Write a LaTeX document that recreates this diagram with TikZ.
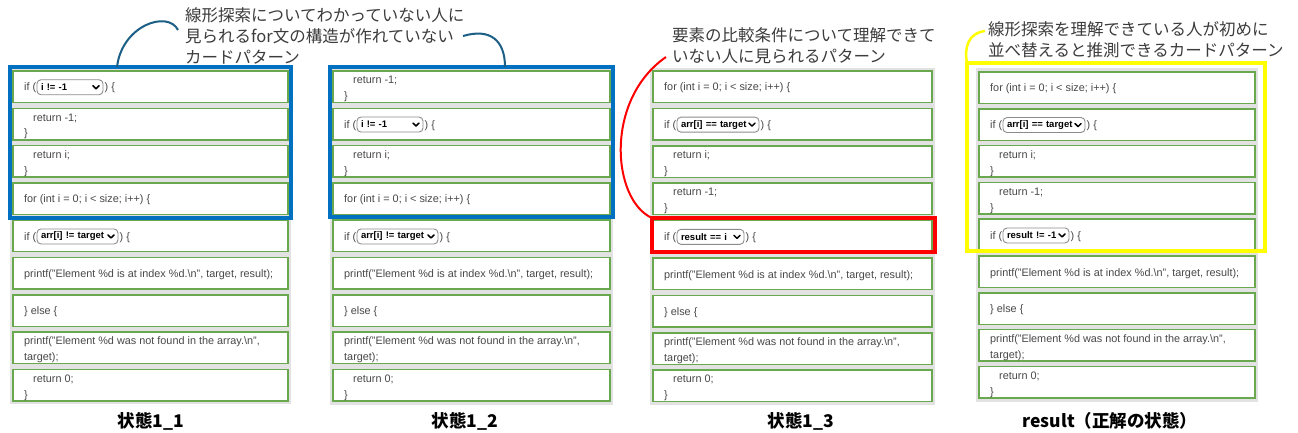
\documentclass[tikz,border=0pt]{standalone}
\usepackage{fontspec}
\setmainfont{Liberation Sans}
\newfontfamily\cjk{Noto Sans CJK JP}
\usetikzlibrary{calc}
\definecolor{cardgreen}{RGB}{106,168,79}
\definecolor{panelgray}{RGB}{226,226,226}
\definecolor{codegray}{RGB}{72,72,72}
\definecolor{ddgray}{RGB}{140,140,140}
\definecolor{boxblue}{RGB}{0,112,192}
\definecolor{curveblue}{RGB}{27,95,135}
\definecolor{annotgray}{RGB}{60,60,60}
\definecolor{boxred}{RGB}{255,0,0}
\definecolor{boxyellow}{RGB}{255,255,0}
\newcommand\codefont{\fontsize{10.85}{16}\selectfont}
\newcommand\ddfont{\bfseries\fontsize{9.5}{11}\selectfont}
\newcommand\tfor{for (int i = 0; i < size; i++) \{}
\newcommand\tretm{\strut\hspace*{9pt}return -1;\\\strut\}}
\newcommand\treti{\strut\hspace*{9pt}return i;\\\strut\}}
\newcommand\tretz{\strut\hspace*{9pt}return 0;\\\strut\}}
\newcommand\tpa{printf("Element \%d is at index \%d.\textbackslash n", target, result);}
\newcommand\telse{\} else \{}
\newcommand\tpb{\strut printf("Element \%d was not found in the array.\textbackslash n",\\\strut target);}
\begin{document}
\begin{tikzpicture}[x=1pt,y=-1pt,
  card/.style={draw=cardgreen, line width=1.5pt, fill=white, anchor=north west, outer sep=0pt,
    minimum height=31.5pt, inner sep=0pt},
  dd/.style={draw=ddgray, fill=white, rounded corners=4pt, line width=0.9pt, minimum height=15pt,
    anchor=west, inner xsep=4pt, inner ysep=0pt, outer sep=0pt, text width=#1, align=left,
    font=\ddfont, text=black},
  chev/.style={line width=1.5pt, black, line cap=round, line join=round},
  code/.style={font=\codefont, text=codegray, inner sep=0pt, align=left},
  panel/.style={fill=panelgray, draw=none},
  hbox/.style={draw=#1, line width=4pt, anchor=north west, outer sep=0pt, inner sep=0pt},
  annot/.style={font=\cjk\fontsize{16.5}{21}\selectfont, text=annotgray, align=left, inner sep=0pt, anchor=north west},
  lab/.style={font=\cjk\bfseries\fontsize{17.5}{20}\selectfont, text=black, inner sep=0pt},
  conn/.style={draw=#1, line width=2pt}
]
\useasboundingbox[fill=white] (0,0) rectangle (1298,433);

\newcommand\ifcard[6]{%
  \node[card, minimum width=#4] (#1) at (#2,#3) {};
  \node[code, anchor=base west] (#1t) at ($(#1.north west)+(11,20)$) {if (};
  \node[dd=#6] (#1d) at ($(#1.west)+(24,0.5)$) {#5};
  \draw[chev] ($(#1d.east)+(-10,-1.5)$) -- +(3,3) -- +(6,0);
  \node[code, anchor=base west, inner xsep=1.5pt] at (#1d.east |- #1t.base) {) \{};
}
\newcommand\onecard[5]{%
  \node[card, minimum width=#4] (#1) at (#2,#3) {};
  \node[code, anchor=base west] (#1t) at ($(#1.north west)+(11,20)$) {#5};
}
\newcommand\twocard[5]{%
  \node[card, minimum width=#4] (#1) at (#2,#3) {};
  \node[code, anchor=north west] (#1t) at ($(#1.north west)+(11,1.3)$) {#5};
}

% grey panels
\fill[panel] (10,68) rectangle (291,404);
\fill[panel] (330,68) rectangle (613,405);
\fill[panel] (650,68) rectangle (935,405);
\fill[panel] (976,68) rectangle (1258,402);

% column 1
\ifcard{a1}{13}{71}{275pt}{i != -1}{58pt}
\twocard{a2}{13}{71+37.3}{275pt}{\tretm}
\twocard{a3}{13}{71+37.3*2}{275pt}{\treti}
\onecard{a4}{13}{71+37.3*3}{275pt}{\tfor}
\ifcard{a5}{13}{71+37.3*4}{275pt}{arr[i] != target}{73pt}
\onecard{a6}{13}{71+37.3*5}{275pt}{\tpa}
\onecard{a7}{13}{71+37.3*6}{275pt}{\telse}
\twocard{a8}{13}{71+37.3*7}{275pt}{\tpb}
\twocard{a9}{13}{71+37.3*8}{275pt}{\tretz}

% column 2
\twocard{b1}{333}{71}{277pt}{\tretm}
\ifcard{b2}{333}{71+37.3}{277pt}{i != -1}{58pt}
\twocard{b3}{333}{71+37.3*2}{277pt}{\treti}
\onecard{b4}{333}{71+37.3*3}{277pt}{\tfor}
\ifcard{b5}{333}{71+37.3*4}{277pt}{arr[i] != target}{73pt}
\onecard{b6}{333}{71+37.3*5}{277pt}{\tpa}
\onecard{b7}{333}{71+37.3*6}{277pt}{\telse}
\twocard{b8}{333}{71+37.3*7}{277pt}{\tpb}
\twocard{b9}{333}{71+37.3*8}{277pt}{\tretz}

% column 3
\onecard{c1}{653}{71}{279pt}{\tfor}
\ifcard{c2}{653}{71+37.4}{279pt}{arr[i] == target}{74pt}
\twocard{c3}{653}{71+37.4*2}{279pt}{\treti}
\twocard{c4}{653}{71+37.4*3}{279pt}{\tretm}
\ifcard{c5}{653}{71+37.4*4}{279pt}{result == i}{59pt}
\onecard{c6}{653}{71+37.4*5}{279pt}{\tpa}
\onecard{c7}{653}{71+37.4*6}{279pt}{\telse}
\twocard{c8}{653}{71+37.4*7}{279pt}{\tpb}
\twocard{c9}{653}{71+37.4*8}{279pt}{\tretz}

% column 4
\onecard{d1}{979}{72}{276pt}{\tfor}
\ifcard{d2}{979}{72+36.8}{276pt}{arr[i] == target}{74pt}
\twocard{d3}{979}{72+36.8*2}{276pt}{\treti}
\twocard{d4}{979}{72+36.8*3}{276pt}{\tretm}
\ifcard{d5}{979}{72+36.8*4}{276pt}{result != -1}{58pt}
\onecard{d6}{979}{72+36.8*5}{276pt}{\tpa}
\onecard{d7}{979}{72+36.8*6}{276pt}{\telse}
\twocard{d8}{979}{72+36.8*7}{276pt}{\tpb}
\twocard{d9}{979}{72+36.8*8}{276pt}{\tretz}

% highlight boxes
\node[hbox=boxblue, minimum width=280.5pt, minimum height=150.5pt] (hb1) at (10,67) {};
\node[hbox=boxblue, minimum width=283.5pt, minimum height=150pt] (hb2) at (329.5,67) {};
\node[hbox=boxred, minimum width=283pt, minimum height=34pt] (hr) at (652,218) {};
\node[hbox=boxyellow, minimum width=297.5pt, minimum height=187.5pt] (hy) at (967,63) {};

% annotations
\node[annot] (t1) at (185,7) {線形探索についてわかっていない人に\\見られるfor文の構造が作れていない\\カードパターン};
\node[annot] (t3) at (672,27.5) {要素の比較条件について理解できて\\いない人に見られるパターン};
\node[annot] (t4) at (988,21) {線形探索を理解できている人が初めに\\並べ替えると推測できるカードパターン};

\coordinate (e1) at (178,30);
\coordinate (e2) at (463,36);
\coordinate (e3) at (666,57);
\coordinate (e4) at (985,31);
\draw[conn=curveblue] ($(hb1.north west)+(107,0)$) .. controls (122,25) and (168,10) .. (e1);
\draw[conn=curveblue] (e2) .. controls (490,28) and (505,40) .. ($(hb2.north west)+(175.5,0)$);
\draw[conn=boxred] (e3) .. controls (604,100) and (612,200) .. (hr.north west);
\draw[conn=boxyellow, line width=2.5pt] (e4) .. controls (968,33) and (964,48) .. (hy.north west);

% labels
\node[lab] (l1) at (151,421) {状態1\_1};
\node[lab] (l2) at (465,421) {状態1\_2};
\node[lab] (l3) at (801,421) {状態1\_3};
\node[lab] (l4) at (1110,421) {result（正解の状態）};
\end{tikzpicture}
\end{document}
